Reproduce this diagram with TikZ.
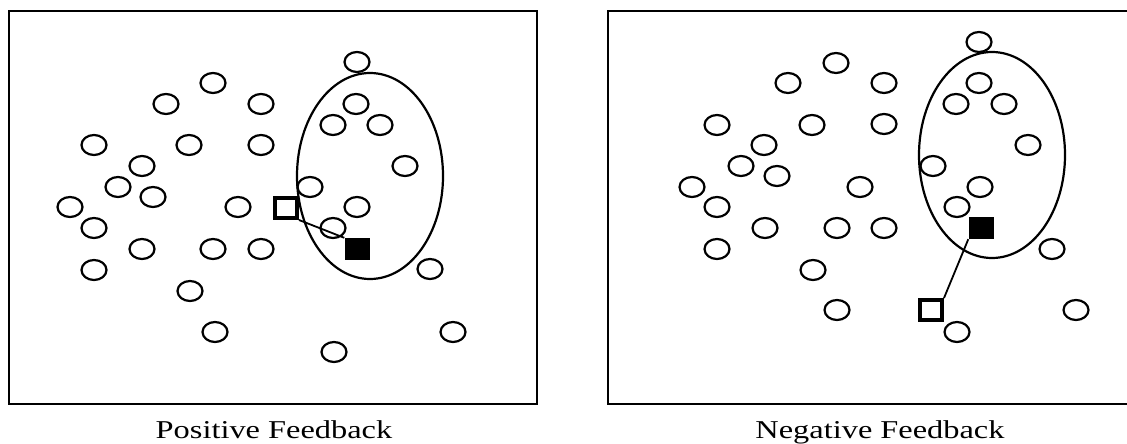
\documentclass[tikz,border=0pt]{standalone}
\usepackage{fontspec}
\setmainfont{Liberation Serif}
\usetikzlibrary{shapes.geometric}

\begin{document}
\begin{tikzpicture}[
  x=1pt, y=-1pt,
  dot/.style={draw, ellipse, line width=2.2pt, minimum width=25pt, minimum height=20pt, inner sep=0pt},
  grp/.style={draw, ellipse, line width=2.2pt, minimum width=146pt, minimum height=206pt, inner sep=0pt},
  frame/.style={line width=2.8pt},
  agent/.style={draw, line width=4pt, minimum width=22pt, minimum height=20pt, inner sep=0pt},
  target/.style={fill, minimum width=25pt, minimum height=22pt, inner sep=0pt},
  link/.style={line width=1.8pt},
  caption/.style={font=\fontsize{25.7}{30}\selectfont, xscale=1.26, anchor=base, inner sep=0pt}
]
  \useasboundingbox (0,0) rectangle (1127,444);

  % positive feedback
  \draw[frame] (9,11) rectangle (537,404);
  \node[grp] (gl) at (370,176) {};
  \foreach \px/\py [count=\i] in {357/62, 213/83, 166/104, 261/104, 356/104, 333/125, 380/125,
      94/145, 189/145, 261/145, 142/166, 405/166, 118/187, 310/187, 153/197, 70/207, 238/207,
      357/207, 94/228, 333/228, 142/249, 213/249, 261/249, 94/270, 430/269, 190/291, 215/332,
      453/332, 334/352}
    \node[dot] (l\i) at (\px,\py) {};
  \node[agent] (wl) at (286,208) {};
  \node[target] (bl) at (357,249) {};
  \draw[link] (wl.south east) -- (bl.north west);
  \node[caption] (capl) at (274,438) {Positive Feedback};

  % negative feedback
  \draw[frame] (1127,11) -| (608,404) -- (1127,404);
  \node[grp] (gr) at (992,155) {};
  \foreach \px/\py [count=\i] in {979/42, 836/63, 788/83, 884/83, 979/83, 956/104, 1004/104,
      717/125, 812/125, 884/124, 764/145, 1028/145, 741/166, 933/166, 777/176, 692/187, 860/187,
      980/187, 717/207, 957/207, 765/228, 837/228, 884/228, 717/249, 1052/249, 813/270, 837/310,
      1076/310, 957/332}
    \node[dot] (r\i) at (\px,\py) {};
  \node[target] (br) at (981,228) {};
  \node[agent] (wr) at (931,310) {};
  \draw[link] (wr.north east) -- (br.south west);
  \node[caption] (capr) at (880,438) {Negative Feedback};
\end{tikzpicture}
\end{document}
